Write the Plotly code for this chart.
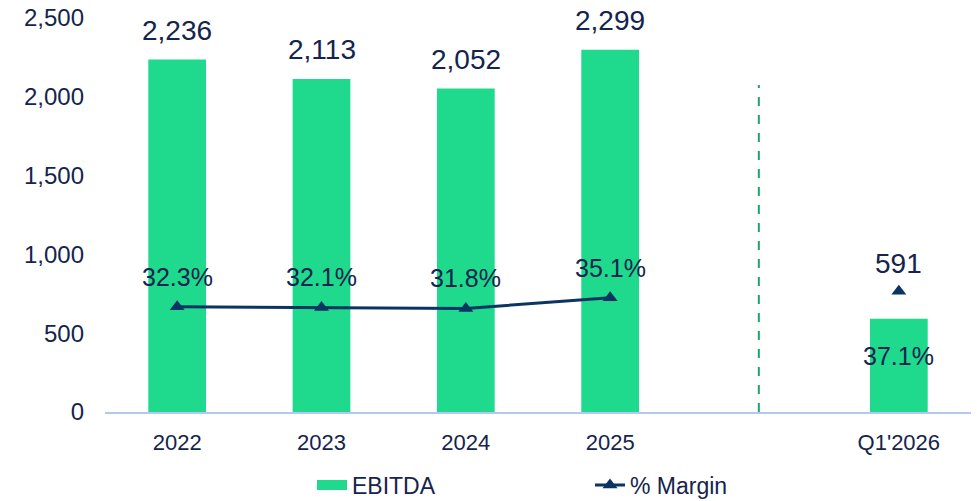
import plotly.graph_objects as go

categories = ["2022", "2023", "2024", "2025", "", "Q1'2026"]
ebitda = [2236, 2113, 2052, 2299, None, 591]
margin = [32.3, 32.1, 31.8, 35.1, None, 37.1]
y_ticks = [0, 500, 1000, 1500, 2000, 2500]

GREEN = "#1FDA8D"
NAVY = "#0B3463"
TEXT = "#14244D"
FONT = "Liberation Sans, Arial, sans-serif"

xs = list(range(len(categories)))

fig = go.Figure()
fig.add_trace(go.Bar(
    x=xs, y=ebitda, name="EBITDA", marker=dict(color=GREEN, line=dict(width=0)),
    width=0.4, hoverinfo="skip", showlegend=False,
))
# legend entry for the bars (wide swatch)
fig.add_trace(go.Scatter(
    x=[None], y=[None], name="EBITDA", mode="lines",
    line=dict(color=GREEN, width=13), showlegend=True,
))
fig.add_trace(go.Scatter(
    x=xs, y=margin, name="% Margin", yaxis="y2", mode="lines+markers",
    line=dict(color=NAVY, width=3),
    marker=dict(symbol="triangle-up", size=13, color=NAVY),
    connectgaps=False, hoverinfo="skip",
))

annotations = []
last = len(categories) - 1
for i, v in enumerate(ebitda):
    if v is None:
        continue
    annotations.append(dict(
        x=i, y=v, xref="x", yref="y", text=f"{v:,}", showarrow=False,
        yanchor="bottom", yshift=(38 if i == last else 12),
        font=dict(size=28, color=TEXT, family=FONT),
    ))
for i, m in enumerate(margin):
    if m is None:
        continue
    annotations.append(dict(
        x=i, y=m, xref="x", yref="y2", text=f"{m:.1f}%", showarrow=False,
        yanchor="middle", yshift=(-65 if i == last else 30),
        font=dict(size=25, color=TEXT, family=FONT),
    ))

fig.update_layout(
    width=977, height=501,
    margin=dict(l=105, r=6, t=18, b=89, autoexpand=False),
    paper_bgcolor="white", plot_bgcolor="white",
    font=dict(family=FONT, color=TEXT, size=22),
    showlegend=True,
    legend=dict(orientation="h", xref="container", yref="container",
                x=(312 / 977), xanchor="left", y=(1 - 485 / 501), yanchor="middle",
                font=dict(size=23, color=TEXT), entrywidth=233, entrywidthmode="pixels",
                traceorder="normal", bgcolor="rgba(0,0,0,0)"),
    xaxis=dict(
        tickmode="array", tickvals=xs, ticktext=categories,
        range=[-0.5, len(categories) - 0.5], showgrid=False, zeroline=False,
        showline=True, linecolor="#B4C8EE", linewidth=2, ticks="",
        tickfont=dict(size=22, color=TEXT), ticklabelstandoff=10,
    ),
    yaxis=dict(
        range=[0, 2500], tickvals=y_ticks, tickformat=",", showgrid=False,
        zeroline=False, showline=False, ticks="", tickfont=dict(size=24, color=TEXT),
        ticklabelstandoff=20, ticklabeloverflow="allow",
    ),
    yaxis2=dict(range=[0, 121], overlaying="y", side="right", visible=False),
    shapes=[dict(
        type="line", xref="x", yref="paper", x0=4.03, x1=4.03, y0=0, y1=0.83,
        line=dict(color="#1FA46C", width=2, dash="dash"),
    )],
    annotations=annotations,
)

fig.write_html(
    "out.html",
    config={"displayModeBar": False},
    post_script="document.body.style.margin='0px';document.body.style.padding='0px';",
)
